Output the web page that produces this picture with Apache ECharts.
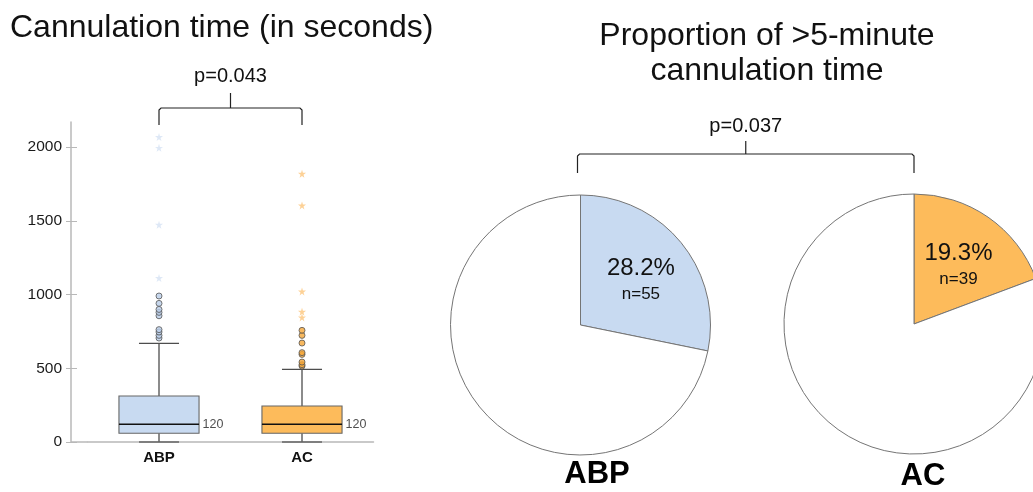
<!DOCTYPE html>
<html>
<head>
<meta charset="utf-8">
<script src="https://cdn.jsdelivr.net/npm/echarts@6/dist/echarts.min.js"></script>
<style>
  html, body { margin: 0; padding: 0; background: #ffffff; }
  #chart { width: 1033px; height: 492px; }
</style>
</head>
<body>
<div id="chart"></div>
<script>
// Cannulation time per group (seconds): box-plot summary values
const groups = ['ABP', 'AC'];
const whiskerLow = [0, 0];
const quartile1 = [59, 59];
const medians = [120, 120];
const quartile3 = [312, 244];
const whiskerHigh = [669, 493];

// Outliers (circles) and extreme values (stars)
const outliersABP = [705, 723, 746, 762, 856, 879, 899, 940, 990];
const outliersAC = [515, 524, 542, 594, 606, 671, 723, 757];
const extremesABP = [1112, 1473, 1995, 2068];
const extremesAC = [845, 884, 1021, 1604, 1819];

// Value-axis tick labels
const yTicks = [0, 500, 1000, 1500, 2000];

// Share of cannulations longer than 5 minutes
const longShare = [28.2, 19.3];
const longCount = [55, 39];

// Significance annotations
const pValueTime = 'p=0.043';
const pValueShare = 'p=0.037';

const FONT = '"Liberation Sans", Arial, Helvetica, sans-serif';
const fills = ['#c8daf1', '#fdbb5b'];
const outlierFills = ['#b9cde8', '#f5a637'];
const extremeFills = ['#d6e2f4', '#fcc67c'];
const pieCenters = [[580.5, 325], [914, 324]];
const pieRadius = 130;
const AXIS_OFFSET = 16.5;
const STAR = 'path://M50,0 L61,35 L98,35 L68,57 L79,91 L50,70 L21,91 L32,57 L2,35 L39,35 Z';

const boxData = groups.map((g, i) => [i, whiskerLow[i], quartile1[i], medians[i], quartile3[i], whiskerHigh[i]]);

function renderBox(params, api) {
  const i = api.value(0);
  const lo = api.coord([i, api.value(1)]);
  const q1 = api.coord([i, api.value(2)]);
  const md = api.coord([i, api.value(3)]);
  const q3 = api.coord([i, api.value(4)]);
  const hi = api.coord([i, api.value(5)]);
  const bw = api.size([1, 0])[0] * 0.56;
  const cw = bw / 2;
  const x = lo[0];
  const whisker = { stroke: '#4d4d4d', lineWidth: 1.3 };
  return {
    type: 'group',
    children: [
      { type: 'line', shape: { x1: x, y1: hi[1], x2: x, y2: q3[1] }, style: whisker },
      { type: 'line', shape: { x1: x, y1: q1[1], x2: x, y2: lo[1] }, style: whisker },
      { type: 'line', shape: { x1: x - cw / 2, y1: hi[1], x2: x + cw / 2, y2: hi[1] }, style: whisker },
      { type: 'line', shape: { x1: x - cw / 2, y1: lo[1], x2: x + cw / 2, y2: lo[1] }, style: { stroke: '#666', lineWidth: 1.6 } },
      { type: 'rect', shape: { x: x - bw / 2, y: q3[1], width: bw, height: q1[1] - q3[1] },
        style: { fill: fills[params.dataIndex], stroke: '#666666', lineWidth: 1.1 } },
      { type: 'line', shape: { x1: x - bw / 2, y1: md[1], x2: x + bw / 2, y2: md[1] }, style: { stroke: '#111', lineWidth: 1.6 } }
    ]
  };
}

function pieSeries(k) {
  return {
    type: 'pie',
    silent: true,
    center: pieCenters[k],
    radius: pieRadius,
    startAngle: 90,
    clockwise: true,
    animation: false,
    label: { show: false },
    labelLine: { show: false },
    itemStyle: { borderColor: '#757575', borderWidth: 1 },
    data: [
      { value: longShare[k], itemStyle: { color: fills[k] } },
      { value: 100 - longShare[k], itemStyle: { color: '#ffffff' } }
    ]
  };
}

function pieLabelSeries(k) {
  return {
    type: 'pie',
    silent: true,
    center: pieCenters[k],
    radius: [20, pieRadius],
    startAngle: 90,
    clockwise: true,
    animation: false,
    itemStyle: { color: 'rgba(0,0,0,0)', borderWidth: 0 },
    labelLine: { show: false },
    label: { show: false },
    labelLayout: { dy: 2 },
    data: [
      {
        value: longShare[k],
        label: {
          show: true,
          position: 'inside',
          formatter: '{p|' + longShare[k].toFixed(1) + '%}\n{n|n=' + longCount[k] + '}',
          rich: {
            p: { fontSize: 24, lineHeight: 30, color: '#111', fontFamily: FONT },
            n: { fontSize: 17, lineHeight: 22, color: '#111', fontFamily: FONT }
          }
        }
      },
      { value: 100 - longShare[k] }
    ]
  };
}

const chart = echarts.init(document.getElementById('chart'), null, { renderer: 'canvas' });

const option = {
  animation: false,
  backgroundColor: '#ffffff',
  grid: { left: 87.5, top: 122, width: 286, height: 320 },
  xAxis: {
    type: 'category',
    data: groups,
    boundaryGap: true,
    axisLine: { show: true, lineStyle: { color: '#b8b8b8', width: 1.5 } },
    axisTick: { show: false },
    axisLabel: { fontSize: 15, fontWeight: 'bold', color: '#111', fontFamily: FONT, margin: 8 },
    splitLine: { show: false }
  },
  yAxis: [
    {
      type: 'value',
      min: 0,
      max: 2170,
      offset: AXIS_OFFSET,
      axisLine: { show: true, lineStyle: { color: '#b8b8b8', width: 1.5 } },
      axisTick: { show: true, length: 5, customValues: yTicks, lineStyle: { color: '#b8b8b8' } },
      axisLabel: {
        fontSize: 15.5, color: '#1a1a1a', fontFamily: FONT, margin: 9,
        customValues: yTicks, formatter: v => String(v)
      },
      splitLine: { show: false }
    },
    {
      type: 'value',
      min: 0,
      max: 2170,
      offset: AXIS_OFFSET,
      position: 'left',
      axisLine: { show: false },
      axisTick: { show: true, inside: true, length: 6, customValues: yTicks, lineStyle: { color: '#b8b8b8' } },
      axisLabel: { show: false },
      splitLine: { show: false }
    }
  ],
  series: [
    {
      type: 'custom',
      name: 'box',
      renderItem: renderBox,
      encode: { x: 0, y: [1, 2, 3, 4, 5] },
      clip: false,
      silent: true,
      z: 3,
      data: boxData
    },
    {
      type: 'scatter',
      silent: true,
      symbol: 'circle',
      symbolSize: 6,
      itemStyle: { color: outlierFills[0], borderColor: '#555', borderWidth: 1 },
      z: 4,
      data: outliersABP.map(v => [0, v])
    },
    {
      type: 'scatter',
      silent: true,
      symbol: 'circle',
      symbolSize: 6,
      itemStyle: { color: outlierFills[1], borderColor: '#555', borderWidth: 1 },
      z: 4,
      data: outliersAC.map(v => [1, v])
    },
    {
      type: 'scatter',
      silent: true,
      symbol: STAR,
      symbolSize: 8,
      itemStyle: { color: extremeFills[0] },
      z: 4,
      data: extremesABP.map(v => [0, v])
    },
    {
      type: 'scatter',
      silent: true,
      symbol: STAR,
      symbolSize: 8,
      itemStyle: { color: extremeFills[1] },
      z: 4,
      data: extremesAC.map(v => [1, v])
    },
    {
      // median value printed beside each box
      type: 'scatter',
      silent: true,
      symbolSize: 1,
      itemStyle: { color: 'rgba(0,0,0,0)' },
      z: 5,
      label: {
        show: true,
        position: 'right',
        distance: 43,
        formatter: p => String(p.value[1]),
        fontSize: 12.5,
        color: '#222',
        fontFamily: FONT
      },
      data: medians.map((v, i) => [i, v])
    },
    pieSeries(0),
    pieSeries(1),
    pieLabelSeries(0),
    pieLabelSeries(1)
  ]
};

chart.setOption(option);

// Brackets and headings
function bracket(xa, xb, yTop, yEnd, yStem) {
  const mid = (xa + xb) / 2;
  return [
    { type: 'polyline', silent: true,
      shape: { points: [[xa, yEnd], [xa, yTop + 2], [xa + 2, yTop], [xb - 2, yTop], [xb, yTop + 2], [xb, yEnd]] },
      style: { stroke: '#222', lineWidth: 1.2, fill: null } },
    { type: 'line', silent: true, shape: { x1: mid, y1: yStem, x2: mid, y2: yTop }, style: { stroke: '#222', lineWidth: 1.2 } }
  ];
}

function text(str, x, y, size, opts) {
  return {
    type: 'text', silent: true, x: x, y: y,
    style: Object.assign({
      text: str, fontSize: size, fontFamily: FONT, fill: '#111', align: 'center', verticalAlign: 'middle'
    }, opts || {})
  };
}

const xa = chart.convertToPixel({ xAxisIndex: 0 }, groups[0]);
const xb = chart.convertToPixel({ xAxisIndex: 0 }, groups[1]);
const gridRect = chart.getModel().getComponent('grid', 0).coordinateSystem.getRect();
const axisY = chart.convertToPixel({ yAxisIndex: 0 }, 0);

const graphics = []
  // base line continues left to meet the offset value axis
  .concat([{ type: 'line', silent: true, z: -1,
    shape: { x1: gridRect.x - AXIS_OFFSET, y1: axisY, x2: gridRect.x, y2: axisY },
    style: { stroke: '#b8b8b8', lineWidth: 1.5 } }])
  .concat(bracket(xa, xb, 108, 125, 93))
  .concat(bracket(pieCenters[0][0] - 3, pieCenters[1][0], 154, 173, 141))
  .concat([
    text('Cannulation time (in seconds)', 10, 28, 32, { align: 'left' }),
    text('Proportion of >5-minute', 767, 36, 32),
    text('cannulation time', 767, 71, 32),
    text(pValueTime, (xa + xb) / 2, 76, 20),
    text(pValueShare, (pieCenters[0][0] - 3 + pieCenters[1][0]) / 2, 126, 20),
    text(groups[0], 597, 474, 31, { fontWeight: 'bold', fill: '#000' }),
    text(groups[1], 923, 476, 31, { fontWeight: 'bold', fill: '#000' })
  ]);

chart.setOption({ graphic: { elements: graphics } });
</script>
</body>
</html>
